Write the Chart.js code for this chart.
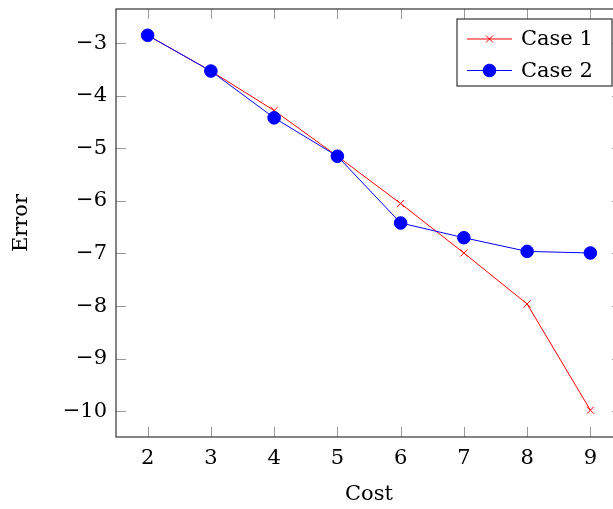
<!DOCTYPE html>
<html>
<head>
<meta charset="utf-8">
<script src="https://cdn.jsdelivr.net/npm/chart.js@4"></script>
<style>
  html, body { margin: 0; padding: 0; background: #fff; overflow: hidden; }
  #wrap { width: 613px; height: 509px; overflow: hidden; }
</style>
</head>
<body>
<div id="wrap"><canvas id="chart" width="640" height="509"></canvas></div>
<script>
const costs = [2, 3, 4, 5, 6, 7, 8, 9];
const case1 = [-2.85, -3.53, -4.28, -5.15, -6.05, -6.99, -7.96, -9.98];
const case2 = [-2.85, -3.53, -4.42, -5.15, -6.42, -6.70, -6.96, -6.99];
const yTicks = [-3, -4, -5, -6, -7, -8, -9, -10];

const FONT = 'DejaVu Serif';

// box round the plot with short inward ticks on all four sides (pgfplots look)
const frame = {
  id: 'frame',
  beforeDatasetsDraw(chart) {
    const { ctx, chartArea: a, scales } = chart;
    const len = 10;
    ctx.save();
    ctx.strokeStyle = '#999';
    ctx.lineWidth = 1;
    ctx.beginPath();
    scales.x.ticks.forEach(t => {
      const px = Math.round(scales.x.getPixelForValue(t.value)) + 0.5;
      ctx.moveTo(px, a.bottom); ctx.lineTo(px, a.bottom - len);
      ctx.moveTo(px, a.top); ctx.lineTo(px, a.top + len);
    });
    scales.y.ticks.forEach(t => {
      const py = Math.round(scales.y.getPixelForValue(t.value)) + 0.5;
      ctx.moveTo(a.left, py); ctx.lineTo(a.left + len, py);
      ctx.moveTo(a.right, py); ctx.lineTo(a.right - len, py);
    });
    ctx.stroke();
    ctx.strokeStyle = '#333';
    ctx.lineWidth = 1.2;
    ctx.strokeRect(a.left, a.top, a.right - a.left, a.bottom - a.top);
    ctx.restore();
  },
  afterDatasetsDraw(chart) {
    // legend box in the upper right corner, inside the axes
    const { ctx } = chart;
    const bx = 457, by = 19, bw = 155, bh = 67;
    ctx.save();
    ctx.fillStyle = '#fff';
    ctx.fillRect(bx, by, bw, bh);
    ctx.strokeStyle = '#333';
    ctx.lineWidth = 1.2;
    ctx.strokeRect(bx, by, bw, bh);
    chart.data.datasets.forEach((ds, i) => {
      const y = by + 20 + i * 31.5;
      ctx.strokeStyle = ds.borderColor;
      ctx.lineWidth = 1;
      ctx.beginPath();
      ctx.moveTo(467, y); ctx.lineTo(512, y);
      ctx.stroke();
      ctx.fillStyle = ds.pointBackgroundColor;
      ctx.strokeStyle = ds.pointBorderColor;
      ctx.lineWidth = ds.pointBorderWidth;
      Chart.helpers.drawPoint(ctx, {
        pointStyle: ds.pointStyle, radius: ds.pointRadius, borderWidth: ds.pointBorderWidth
      }, 489.5, y);
      ctx.fillStyle = '#000';
      ctx.font = '21px "' + FONT + '"';
      ctx.textBaseline = 'middle';
      ctx.textAlign = 'left';
      ctx.fillText(ds.label, 521, y + 1);
    });
    ctx.restore();
  }
};

const minus = v => String(v).replace('-', '\u2212');

new Chart(document.getElementById('chart'), {
  type: 'line',
  data: {
    datasets: [
      {
        label: 'Case 1',
        data: costs.map((c, i) => ({ x: c, y: case1[i] })),
        order: 1,
        borderColor: '#ff0000',
        backgroundColor: '#ff0000',
        borderWidth: 1,
        pointStyle: 'crossRot',
        pointRadius: 5,
        pointBorderWidth: 1,
        pointBorderColor: '#ff0000',
        pointBackgroundColor: '#ff0000'
      },
      {
        label: 'Case 2',
        data: costs.map((c, i) => ({ x: c, y: case2[i] })),
        order: 0,
        borderColor: '#0000ff',
        backgroundColor: '#0000ff',
        borderWidth: 1,
        pointStyle: 'circle',
        pointRadius: 6.3,
        pointBorderWidth: 1,
        pointBorderColor: '#0000ff',
        pointBackgroundColor: '#0000ff'
      }
    ]
  },
  options: {
    responsive: false,
    animation: false,
    layout: { padding: { left: 0, top: 9, right: 18, bottom: 0 } },
    plugins: { legend: { display: false }, tooltip: { enabled: false } },
    scales: {
      x: {
        type: 'linear',
        min: 1.5,
        max: 9.5,
        afterBuildTicks: s => { s.ticks = costs.map(v => ({ value: v })); },
        afterFit: s => { s.height = 72; s.paddingLeft = 0; s.paddingRight = 0; },
        grid: { display: false, drawTicks: false },
        border: { display: false },
        ticks: { color: '#000', font: { family: FONT, size: 21 }, padding: 9, maxRotation: 0, callback: minus },
        title: { display: true, text: 'Cost', color: '#000', font: { family: FONT, size: 21 }, padding: { top: 2, bottom: 2 } }
      },
      y: {
        type: 'linear',
        min: -10.49,
        max: -2.35,
        afterBuildTicks: s => { s.ticks = yTicks.map(v => ({ value: v })); },
        afterFit: s => { s.width = 116; s.paddingTop = 0; s.paddingBottom = 0; },
        grid: { display: false, drawTicks: false },
        border: { display: false },
        ticks: { color: '#000', font: { family: FONT, size: 21 }, padding: 9, callback: minus },
        title: { display: true, text: 'Error', color: '#000', font: { family: FONT, size: 21 }, padding: { top: 9, bottom: 9 } }
      }
    }
  },
  plugins: [frame]
});
</script>
</body>
</html>
